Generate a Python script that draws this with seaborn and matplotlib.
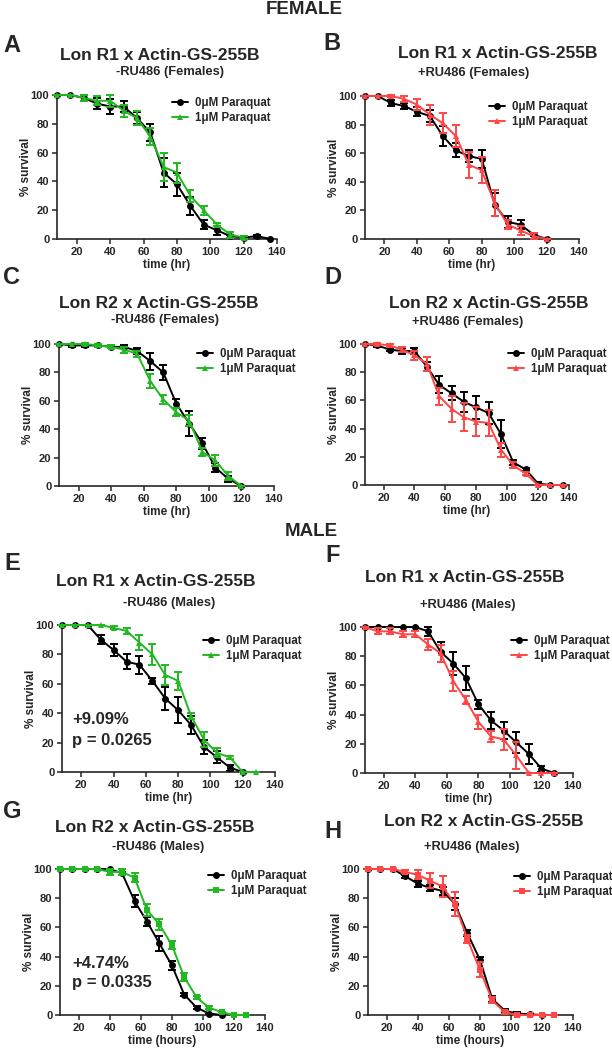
import matplotlib
matplotlib.use("Agg")
import matplotlib.pyplot as plt
from matplotlib.lines import Line2D
import numpy as np
import pandas as pd
import seaborn as sns

# ----------------------------------------------
# Data (% survival, mean and error)
# ----------------------------------------------
A_t0 = [8, 16, 24, 32, 40, 48, 56, 64, 72, 80, 88, 96, 104, 112, 120, 128, 136]
A_s0 = [100, 100, 98, 94, 92, 92, 84, 74, 46, 38, 23, 10, 6, 2, 1, 2, 0]
A_e0 = [0, 0, 2, 4, 5, 4, 4, 6, 10, 8, 6, 3, 3, 1, 1, 1, 0]
A_t1 = [8, 16, 24, 32, 40, 48, 56, 64, 72, 80, 88, 96, 104, 112, 120]
A_s1 = [100, 100, 98, 96, 96, 89, 84, 71, 50, 46, 30, 20, 10, 3, 1]
A_e1 = [0, 0, 2, 3, 4, 4, 5, 6, 10, 7, 4, 3, 1, 2, 1]

B_t0 = [8, 16, 24, 32, 40, 48, 56, 64, 72, 80, 88, 96, 104, 112, 120]
B_s0 = [100, 100, 95, 93, 89, 86, 72, 62, 58, 56, 24, 12, 10, 3, 0]
B_e0 = [0, 0, 2, 2, 3, 4, 7, 5, 4, 6, 8, 4, 3, 1, 0]
B_t1 = [8, 16, 24, 32, 40, 48, 56, 64, 72, 80, 88, 96, 104, 112, 120]
B_s1 = [100, 100, 100, 98, 94, 87, 81, 72, 52, 48, 25, 10, 6, 2, 0]
B_e1 = [0, 0, 1, 2, 4, 7, 7, 8, 9, 9, 9, 3, 3, 2, 0]

C_t0 = [8, 16, 24, 32, 40, 48, 56, 64, 72, 80, 88, 96, 104, 112, 120]
C_s0 = [100, 99, 99, 99, 98, 98, 95, 88, 80, 58, 44, 30, 13, 5, 0]
C_e0 = [0, 1, 1, 1, 1, 1, 2, 6, 5, 3, 9, 4, 3, 2, 0]
C_t1 = [8, 16, 24, 32, 40, 48, 56, 64, 72, 80, 88, 96, 104, 112, 120]
C_s1 = [100, 100, 100, 99, 98, 96, 93, 74, 61, 52, 46, 24, 18, 7, 0]
C_e1 = [0, 0, 1, 1, 1, 2, 2, 5, 3, 3, 4, 3, 4, 3, 0]

D_t0 = [8, 16, 24, 32, 40, 48, 56, 64, 72, 80, 88, 96, 104, 112, 120, 128, 136]
D_s0 = [100, 99, 96, 95, 95, 84, 71, 65, 59, 55, 51, 36, 16, 11, 1, 0, 0]
D_e0 = [0, 1, 1, 2, 2, 3, 6, 5, 7, 8, 8, 10, 2, 1, 1, 0, 0]
D_t1 = [8, 16, 24, 32, 40, 48, 56, 64, 72, 80, 88, 96, 104, 112, 120, 128, 136]
D_s1 = [100, 100, 99, 96, 92, 86, 63, 54, 48, 45, 44, 25, 14, 8, 0, 0, 0]
D_e1 = [0, 1, 1, 2, 3, 5, 6, 9, 10, 10, 9, 5, 2, 1, 0, 0, 0]

E_t0 = [8, 16, 24, 32, 40, 48, 56, 64, 72, 80, 88, 96, 104, 112, 120]
E_s0 = [100, 100, 100, 90, 83, 75, 73, 62, 50, 42, 32, 17, 10, 3, 0]
E_e0 = [0, 0, 0, 3, 4, 5, 6, 2, 8, 9, 6, 5, 4, 2, 0]
E_t1 = [8, 16, 24, 32, 40, 48, 56, 64, 72, 80, 88, 96, 104, 112, 120, 128]
E_s1 = [100, 100, 100, 100, 98, 96, 88, 80, 66, 62, 38, 22, 13, 10, 0, 0]
E_e1 = [0, 0, 0, 0, 1, 2, 5, 7, 7, 6, 2, 5, 3, 1, 0, 0]

F_t0 = [8, 16, 24, 32, 40, 48, 56, 64, 72, 80, 88, 96, 104, 112, 120, 128]
F_s0 = [100, 100, 100, 100, 100, 97, 83, 75, 65, 47, 36, 29, 21, 13, 3, 0]
F_e0 = [0, 0, 0, 0, 0, 3, 7, 8, 8, 3, 6, 6, 7, 7, 2, 0]
F_t1 = [8, 16, 24, 32, 40, 48, 56, 64, 72, 80, 88, 96, 104, 112, 120, 128]
F_s1 = [100, 97, 97, 95, 95, 88, 82, 63, 50, 35, 25, 23, 12, 0, 0, 0]
F_e1 = [0, 2, 2, 2, 2, 4, 6, 7, 3, 5, 4, 7, 9, 0, 0, 0]

G_t0 = [8, 16, 24, 32, 40, 48, 56, 64, 72, 80, 88, 96, 104, 112]
G_s0 = [100, 100, 100, 100, 100, 97, 78, 64, 49, 34, 14, 5, 1, 0]
G_e0 = [0, 0, 0, 0, 0, 1, 4, 3, 5, 3, 1, 1, 0, 0]
G_t1 = [8, 16, 24, 32, 40, 48, 56, 64, 72, 80, 88, 96, 104, 112, 120, 128]
G_s1 = [100, 100, 100, 100, 98, 98, 94, 72, 62, 48, 26, 12, 5, 2, 0, 0]
G_e1 = [0, 0, 0, 0, 2, 2, 3, 4, 4, 3, 3, 1, 1, 0, 0, 0]

H_t0 = [8, 16, 24, 32, 40, 48, 56, 64, 72, 80, 88, 96, 104, 112, 120]
H_s0 = [100, 100, 100, 95, 90, 87, 85, 76, 56, 38, 11, 3, 1, 0.5, 0]
H_e0 = [0, 0, 0, 1, 2, 2, 3, 4, 2, 2, 2, 1, 1, 0, 0]
H_t1 = [8, 16, 24, 32, 40, 48, 56, 64, 72, 80, 88, 96, 104, 112, 120, 128]
H_s1 = [100, 100, 100, 98, 96, 92, 88, 76, 52, 31, 10, 2, 0, 0, 0, 0]
H_e1 = [0, 0, 0, 1, 3, 5, 7, 8, 3, 5, 2, 1, 0, 0, 0, 0]

LABELS = ["0\u03bcM Paraquat", "1\u03bcM Paraquat"]
GREEN = "#22b822"
RED = "#ff4545"

W, H = 612, 1050

sns.set_style("ticks")
plt.rcParams["font.family"] = ["Liberation Sans", "DejaVu Sans"]
plt.rcParams["font.weight"] = "bold"


def px_rect(left, right, top, bottom):
    return [left / W, 1 - bottom / H, (right - left) / W, (bottom - top) / H]


def fx(x):
    return x / W


def fy(y):
    return 1 - y / H


def survival_panel(fig, rect, data, colour, marker1, xlabel, letter, title,
                   subtitle, leg_xy):
    ax = fig.add_axes(px_rect(*rect))
    t0, s0, e0, t1, s1, e1 = data
    df = pd.concat([
        pd.DataFrame({"time": t0, "survival": s0, "group": LABELS[0]}),
        pd.DataFrame({"time": t1, "survival": s1, "group": LABELS[1]}),
    ])
    palette = {LABELS[0]: "black", LABELS[1]: colour}
    markers = {LABELS[0]: "o", LABELS[1]: marker1}
    sns.lineplot(data=df, x="time", y="survival", hue="group", style="group",
                 palette=palette, markers=markers, dashes=False, legend=False,
                 linewidth=1.4, markersize=5, markeredgewidth=0, ax=ax,
                 clip_on=False, zorder=3)
    ax.errorbar(t0, s0, yerr=e0, fmt="none", ecolor="black", elinewidth=1.4,
                capsize=3, capthick=1.4, clip_on=False, zorder=2)
    ax.errorbar(t1, s1, yerr=e1, fmt="none", ecolor=colour, elinewidth=1.4,
                capsize=3, capthick=1.4, clip_on=False, zorder=4)

    ax.set_xlim(8, 140)
    ax.set_ylim(0, 100)
    ax.set_xticks([20, 40, 60, 80, 100, 120, 140])
    ax.set_yticks([0, 20, 40, 60, 80, 100])
    ax.tick_params(labelsize=8, length=3.5, width=1.1, pad=2)
    for lab in ax.get_xticklabels() + ax.get_yticklabels():
        lab.set_fontweight("bold")
    sns.despine(ax=ax)
    for sp in ("left", "bottom"):
        ax.spines[sp].set_linewidth(1.2)
    ax.set_xlabel(xlabel, fontsize=8.5, fontweight="bold", labelpad=2)
    ax.set_ylabel("% survival", fontsize=8.5, fontweight="bold", labelpad=-1)

    handles = [
        Line2D([], [], color="black", marker="o", markersize=5, lw=1.4,
               markeredgewidth=0),
        Line2D([], [], color=colour, marker=marker1, markersize=5, lw=1.4,
               markeredgewidth=0),
    ]
    fig.legend(handles, LABELS, loc="upper left",
               bbox_to_anchor=(fx(leg_xy[0]), fy(leg_xy[1])),
               frameon=False, borderpad=0, borderaxespad=0, handlelength=1.4,
               handletextpad=0.6, labelspacing=0.3,
               prop={"size": 8.3, "weight": "bold"})

    fig.text(fx(letter[0]), fy(letter[1]), letter[2], fontsize=17,
             fontweight="bold", ha="center", va="center")
    fig.text(fx(title[0]), fy(title[1]), title[2], fontsize=12.5,
             fontweight="bold", ha="center", va="center")
    fig.text(fx(subtitle[0]), fy(subtitle[1]), subtitle[2], fontsize=9.3,
             fontweight="bold", ha="center", va="center")
    return ax


fig = plt.figure(figsize=(W / 100, H / 100), dpi=100)

fig.text(fx(304), fy(10), "FEMALE", fontsize=13.5, fontweight="bold",
         ha="center", va="center")
fig.text(fx(311), fy(532), "MALE", fontsize=13.5, fontweight="bold",
         ha="center", va="center")

survival_panel(fig, (57, 277, 95, 239),
               (A_t0, A_s0, A_e0, A_t1, A_s1, A_e1), GREEN, "^", "time (hr)",
               (12, 45, "A"), (160, 55, "Lon R1 x Actin-GS-255B"),
               (170, 72, "-RU486 (Females)"), (172, 97))
survival_panel(fig, (365, 579, 96, 239),
               (B_t0, B_s0, B_e0, B_t1, B_s1, B_e1), RED, "^", "time (hr)",
               (332, 43, "B"), (498, 53, "Lon R1 x Actin-GS-255B"),
               (474, 73, "+RU486 (Females)"), (489, 101))
survival_panel(fig, (59, 274, 344, 486),
               (C_t0, C_s0, C_e0, C_t1, C_s1, C_e1), GREEN, "^", "time (hr)",
               (12, 277, "C"), (159, 304, "Lon R2 x Actin-GS-255B"),
               (165, 320, "-RU486 (Females)"), (197, 348))
survival_panel(fig, (365, 569, 344, 485),
               (D_t0, D_s0, D_e0, D_t1, D_s1, D_e1), RED, "^", "time (hr)",
               (333, 277, "D"), (489, 303, "Lon R2 x Actin-GS-255B"),
               (468, 322, "+RU486 (Females)"), (508, 348))
survival_panel(fig, (62, 275, 625, 772),
               (E_t0, E_s0, E_e0, E_t1, E_s1, E_e1), GREEN, "^", "time (hr)",
               (12, 563, "E"), (156, 582, "Lon R1 x Actin-GS-255B"),
               (169, 603, "-RU486 (Males)"), (203, 635))
survival_panel(fig, (365, 573, 627, 773),
               (F_t0, F_s0, F_e0, F_t1, F_s1, F_e1), RED, "^", "time (hr)",
               (333, 555, "F"), (465, 578, "Lon R1 x Actin-GS-255B"),
               (468, 605, "+RU486 (Males)"), (511, 635))
survival_panel(fig, (60, 265, 869, 1015),
               (G_t0, G_s0, G_e0, G_t1, G_s1, G_e1), GREEN, "s", "time (hours)",
               (12, 812, "G"), (155, 827, "Lon R2 x Actin-GS-255B"),
               (158, 847, "-RU486 (Males)"), (208, 870))
survival_panel(fig, (368, 573, 869, 1015),
               (H_t0, H_s0, H_e0, H_t1, H_s1, H_e1), RED, "s", "time (hours)",
               (333, 832, "H"), (484, 822, "Lon R2 x Actin-GS-255B"),
               (472, 847, "+RU486 (Males)"), (514, 871))

# lifespan change annotations
fig.text(fx(72), fy(720), "+9.09%", fontsize=12, fontweight="bold", va="center")
fig.text(fx(72), fy(740), "p = 0.0265", fontsize=12, fontweight="bold", va="center")
fig.text(fx(72), fy(963), "+4.74%", fontsize=12, fontweight="bold", va="center")
fig.text(fx(72), fy(982), "p = 0.0335", fontsize=12, fontweight="bold", va="center")

fig.savefig("out.png", dpi=100)
plt.close(fig)
